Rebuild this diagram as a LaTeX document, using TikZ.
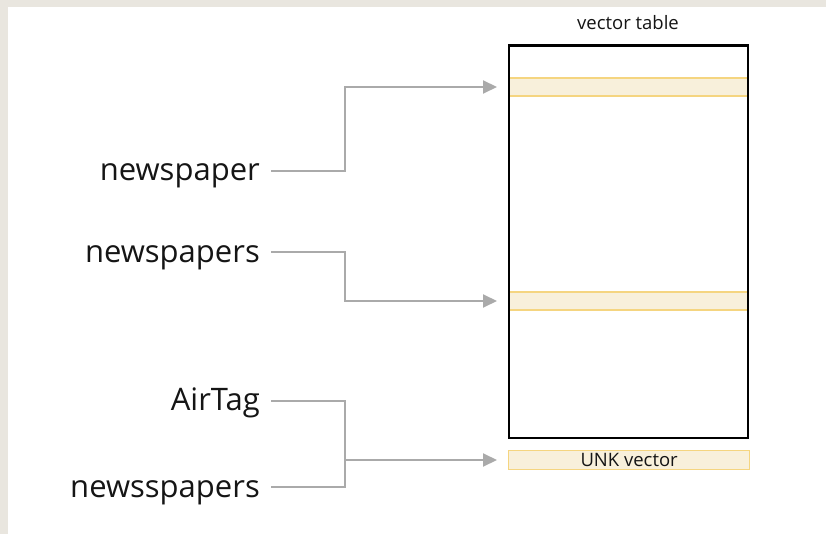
\documentclass[tikz,border=0pt]{standalone}
\usepackage{fontspec}
\setmainfont{Open Sans}
\usetikzlibrary{arrows.meta}
\definecolor{bgbeige}{HTML}{E9E6DF}
\definecolor{rowfill}{HTML}{F8F0DB}
\definecolor{rowline}{HTML}{F5D580}
\definecolor{arrowgray}{HTML}{AAAAAA}
\definecolor{textblack}{HTML}{151515}
\tikzset{
  word/.style={anchor=base east, inner sep=0pt, font=\fontsize{31}{34}\selectfont, text=textblack},
  conn/.style={draw=arrowgray, line width=2pt},
  arr/.style={conn, -{Triangle[length=14pt,width=13pt]}},
  rowbox/.style={fill=rowfill, draw=rowline, line width=1.3pt},
}
\begin{document}
\begin{tikzpicture}[x=1pt,y=-1pt]
\useasboundingbox (0,0) rectangle (826,534);
\fill[bgbeige] (0,0) rectangle (826,534);
\fill[white] (8,7) rectangle (826,534);
% title
\node[anchor=base, inner sep=0pt, font=\fontsize{18.5}{20}\selectfont, text=textblack] (title) at (628,30) {vector table};
% highlighted rows
\draw[rowbox] (509,78) rectangle (748,96);
\draw[rowbox] (509,292) rectangle (748,310);
\coordinate (row1) at (497,87);
\coordinate (row2) at (497,301);
% table box
\draw[line width=2.3pt, black] (509,45.5) rectangle (748,438);
% UNK vector
\node[rowbox, minimum width=241pt, minimum height=18.5pt, inner sep=0pt, anchor=west, font=\fontsize{18.5}{20}\selectfont, text=textblack] (unk) at (508,460) {UNK vector};
% words
\node[word] (w1) at (260,180.5) {newspaper};
\node[word] (w2) at (260,262.5) {newspapers};
\node[word] (w3) at (260,410) {AirTag};
\node[word] (w4) at (260,497.5) {newsspapers};
\coordinate (s1) at (271,171);
\coordinate (s2) at (271,252);
\coordinate (s3) at (271,401);
\coordinate (s4) at (271,487);
\coordinate (j) at (345,460);
\coordinate (unkin) at (497,460);
% connectors
\draw[arr] (s1) -- (345,171) -- (345,87) -- (row1);
\draw[arr] (s2) -- (345,252) -- (345,301) -- (row2);
\draw[conn] (s3) -- (345,401) -- (345,487) -- (s4);
\draw[arr] (j) -- (unkin);
\end{tikzpicture}
\end{document}
